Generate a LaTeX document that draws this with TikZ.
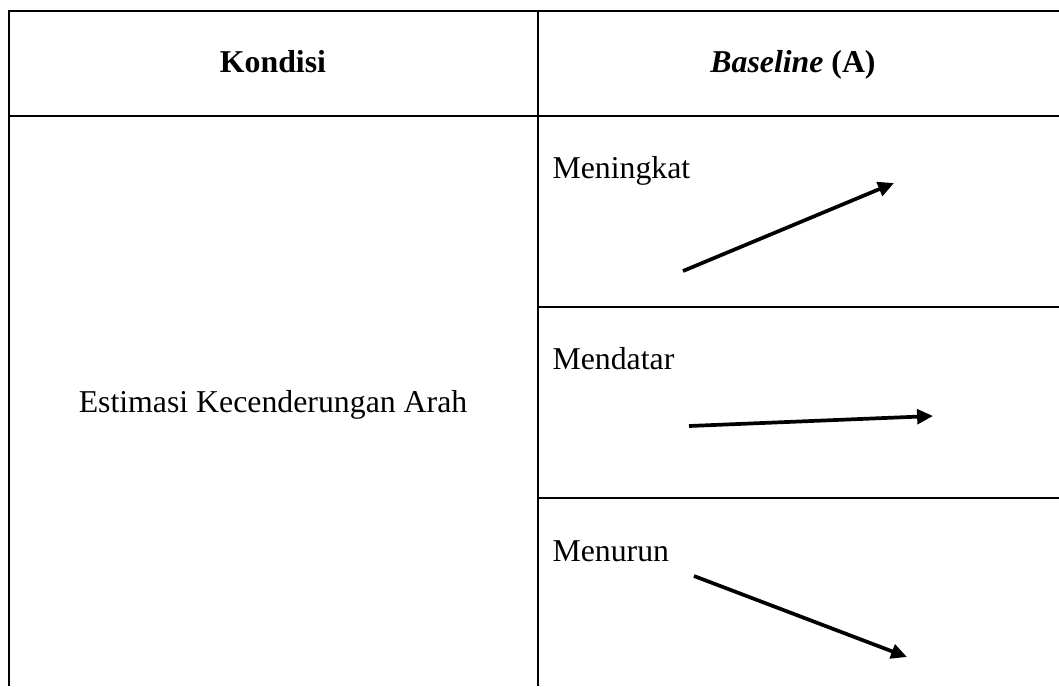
\documentclass[tikz,border=0pt]{standalone}
\usepackage{fontspec}
\setmainfont{Liberation Serif}
\usepackage{tikz}
\usetikzlibrary{arrows.meta}
\tikzset{
  rule/.style={line width=0.9pt},
  trend/.style={line width=1.4pt, -{Triangle[length=6pt, width=5.5pt]}},
  cell/.style={inner sep=0pt, font=\fontsize{12}{14}\selectfont}
}

\begin{document}
\begin{tikzpicture}[x=0.3774pt, y=-0.3774pt]
		\useasboundingbox (0,0) rectangle (1059,686);
		% table lines
		\draw[rule] (9,686) -- (9,11) -- (1059,11);
		\draw[rule] (9,116) -- (1059,116);
		\draw[rule] (538,11) -- (538,686);
		\draw[rule] (538,307) -- (1059,307);
		\draw[rule] (538,498) -- (1059,498);
		%
		\node[cell, anchor=base] (kondisi) at (273,72) {\textbf{Kondisi}};
		\node[cell, anchor=base] (baseline) at (793,72) {\textbf{\textit{Baseline} (A)}};
		\node[cell, anchor=base] (estimasi) at (273,412) {Estimasi Kecenderungan Arah};
		\node[cell, anchor=base west] (naik) at (552,178) {Meningkat};
		\node[cell, anchor=base west] (datar) at (552,369) {Mendatar};
		\node[cell, anchor=base west] (turun) at (552,561) {Menurun};
		%
		\coordinate (naik1) at (683,271);
		\coordinate (naik2) at (894,183);
		\coordinate (datar1) at (689,426);
		\coordinate (datar2) at (933,416);
		\coordinate (turun1) at (694,576);
		\coordinate (turun2) at (907,657);
		\draw[trend] (naik1) -- (naik2);
		\draw[trend] (datar1) -- (datar2);
		\draw[trend] (turun1) -- (turun2);
	\end{tikzpicture}
\end{document}
